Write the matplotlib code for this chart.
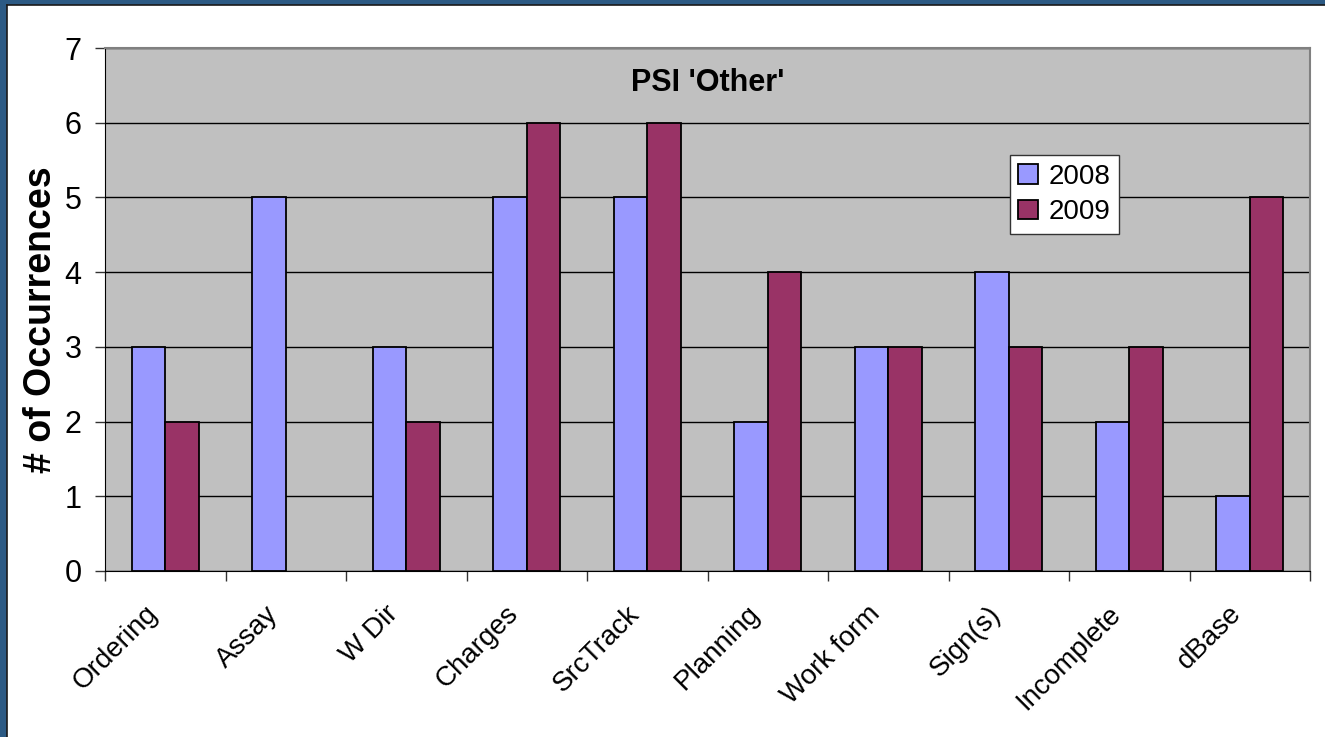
import numpy as np
import matplotlib.pyplot as plt
import matplotlib.transforms as mtransforms
from matplotlib.patches import Rectangle

plt.rcParams['font.family'] = ['Liberation Sans', 'DejaVu Sans']

# PSI 'Other' occurrences per category
categories = ['Ordering', 'Assay', 'W Dir', 'Charges', 'SrcTrack',
              'Planning', 'Work form', 'Sign(s)', 'Incomplete', 'dBase']
counts_2008 = [3, 5, 3, 5, 5, 2, 3, 4, 2, 1]
counts_2009 = [2, 0, 2, 6, 6, 4, 3, 3, 3, 5]
years = ['2008', '2009']

fig = plt.figure(figsize=(13.25, 7.37), dpi=100)
fig.patch.set_facecolor('white')

# slide frame strips on top and left
blue = '#2c5a84'
fig.patches.append(Rectangle((0, 1 - 5/737), 1, 5/737, transform=fig.transFigure,
                             facecolor=blue, edgecolor='none', zorder=0))
fig.patches.append(Rectangle((0, 0), 7/1325, 1, transform=fig.transFigure,
                             facecolor=blue, edgecolor='none', zorder=0))
fig.add_artist(plt.Line2D([7/1325, 1], [1 - 5/737, 1 - 5/737], transform=fig.transFigure,
                          color='#1a1a1a', lw=1.2))
fig.add_artist(plt.Line2D([7/1325, 7/1325], [0, 1 - 5/737], transform=fig.transFigure,
                          color='#1a1a1a', lw=1.2))

ax = fig.add_axes([105/1325, 166/737, 1205/1325, 523/737])
ax.set_facecolor('#c0c0c0')

x = np.arange(len(categories))
w = 0.28
# no outline for empty bars
ax.bar(x - w/2, counts_2008, w, color='#9999ff', edgecolor='black',
       linewidth=[1.3 if v else 0 for v in counts_2008], label=years[0], zorder=3)
ax.bar(x + w/2, counts_2009, w, color='#993366', edgecolor='black',
       linewidth=[1.3 if v else 0 for v in counts_2009], label=years[1], zorder=3)

ax.set_xlim(-0.5, len(categories) - 0.5)
ax.set_ylim(0, 7)
ax.set_yticks(range(8))
ax.yaxis.grid(True, color='black', lw=1)
ax.set_axisbelow(True)

# category boundaries get the tick marks, labels sit under the centres
ax.set_xticks(np.arange(-0.5, len(categories)), minor=False)
ax.set_xticklabels([])
ax.set_xticks(x, minor=True)
ax.set_xticklabels(categories, minor=True, rotation=45, ha='right', va='center',
                   rotation_mode='anchor', fontsize=20)
ax.tick_params(axis='x', which='minor', length=0, pad=18)
ax.tick_params(axis='x', which='major', length=7, width=1, color='#333333')
ax.tick_params(axis='y', length=7, width=1, labelsize=22, pad=10, color='#333333')
shift = mtransforms.ScaledTranslation(-12/100, -14/100, fig.dpi_scale_trans)
for lbl in ax.get_xticklabels(minor=True):
    lbl.set_transform(lbl.get_transform() + shift)

for s in ['top', 'right']:
    ax.spines[s].set_color('#808080')
    ax.spines[s].set_linewidth(1.5)
ax.spines['left'].set_color('black')
ax.spines['bottom'].set_color('black')

ax.set_ylabel('# of Occurrences', fontsize=27, fontweight='bold')
ax.yaxis.set_label_coords(-0.038, 0.48)
ax.text(0.5, 0.933, "PSI 'Other'", transform=ax.transAxes, ha='center', va='center',
        fontsize=22, fontweight='bold')

leg = ax.legend(loc='upper left', bbox_to_anchor=(0.751, 0.795), fontsize=20,
                fancybox=False, framealpha=1, edgecolor='#333333',
                handlelength=0.7, handleheight=0.7, handletextpad=0.4,
                borderpad=0.3, labelspacing=0.35, borderaxespad=0)
leg.get_frame().set_linewidth(1)

fig.savefig('out.png', dpi=100)
